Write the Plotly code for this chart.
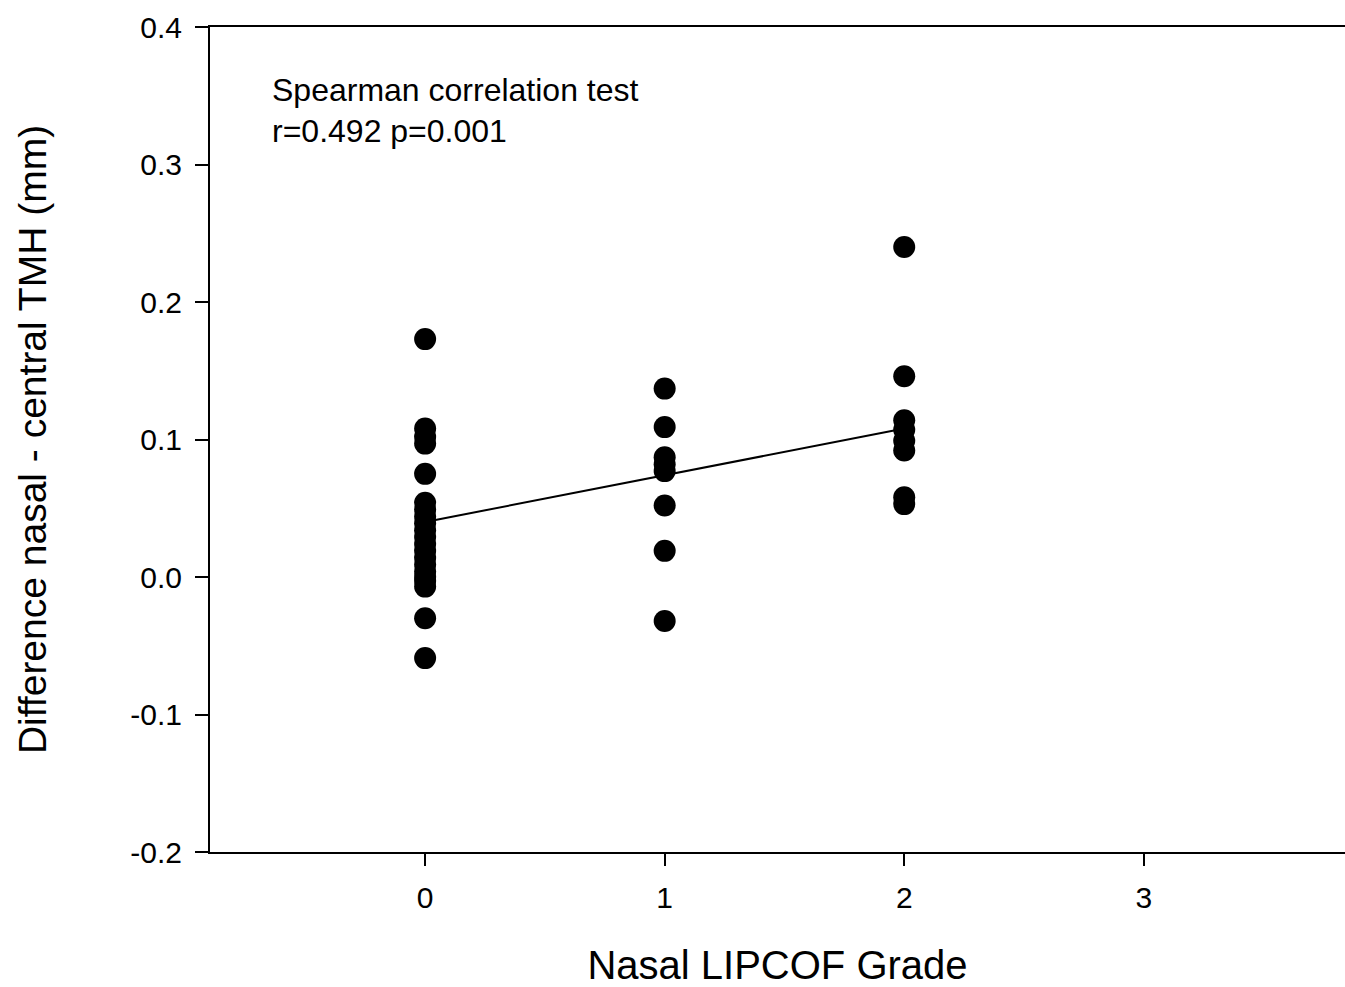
import plotly.graph_objects as go

# Nasal LIPCOF grade (x) and difference nasal - central TMH in mm (y)
grade0_y = [0.173, 0.108, 0.102, 0.097, 0.075, 0.054, 0.049, 0.044, 0.039, 0.034,
            0.029, 0.024, 0.019, 0.014, 0.009, 0.004, 0.000, -0.003, -0.007,
            -0.030, -0.059]
grade1_y = [0.137, 0.109, 0.087, 0.082, 0.077, 0.052, 0.019, -0.032]
grade2_y = [0.240, 0.146, 0.114, 0.107, 0.099, 0.092, 0.058, 0.053]

grades = [0, 1, 2]
fit_x = [0, 2]
fit_y = [0.040, 0.108]

x_ticks = [0, 1, 2, 3]
y_ticks = [-0.2, -0.1, 0.0, 0.1, 0.2, 0.3, 0.4]
y_tick_labels = ["-0.2", "-0.1", "0.0", "0.1", "0.2", "0.3", "0.4"]

stat_lines = ["Spearman correlation test", "r=0.492 p=0.001"]

xs = [grades[0]] * len(grade0_y) + [grades[1]] * len(grade1_y) + [grades[2]] * len(grade2_y)
ys = grade0_y + grade1_y + grade2_y

FONT = "Liberation Sans, Arial, sans-serif"

fig = go.Figure()
fig.add_trace(go.Scatter(x=xs, y=ys, mode="markers",
                         marker=dict(color="black", size=22, line=dict(width=0)),
                         showlegend=False))
fig.add_trace(go.Scatter(x=fit_x, y=fit_y, mode="lines",
                         line=dict(color="black", width=2), showlegend=False))

for txt, ypos in zip(stat_lines, [0.9236, 0.8739]):
    fig.add_annotation(x=0.0529, y=ypos, xref="paper", yref="paper",
                       xanchor="left", yanchor="middle", showarrow=False,
                       text=txt, font=dict(family=FONT, size=32, color="black"))

fig.update_layout(
    width=1345, height=987,
    margin=dict(l=210, r=0, t=27, b=135),
    paper_bgcolor="white", plot_bgcolor="white",
    font=dict(family=FONT, color="black"),
    xaxis=dict(range=[-0.898, 3.84], tickvals=x_ticks, ticks="outside", ticklen=12,
               tickwidth=2, tickcolor="black", showline=True, linecolor="black",
               linewidth=2, mirror=True, showgrid=False, zeroline=False,
               tickfont=dict(size=30), ticklabelstandoff=6,
               title=dict(text="Nasal LIPCOF Grade", font=dict(size=40), standoff=38)),
    yaxis=dict(range=[-0.2, 0.4], tickvals=y_ticks, ticktext=y_tick_labels,
               ticks="outside", ticklen=13, tickwidth=2, tickcolor="black",
               showline=True, linecolor="black", linewidth=2, showgrid=False,
               zeroline=False, tickfont=dict(size=30), ticklabelstandoff=7,
               title=dict(text="Difference nasal - central TMH (mm)",
                          font=dict(size=39), standoff=72)),
)

fig.write_html("out.html", config={"displayModeBar": False},
               post_script="document.body.style.margin='0';document.body.style.overflow='hidden';")
